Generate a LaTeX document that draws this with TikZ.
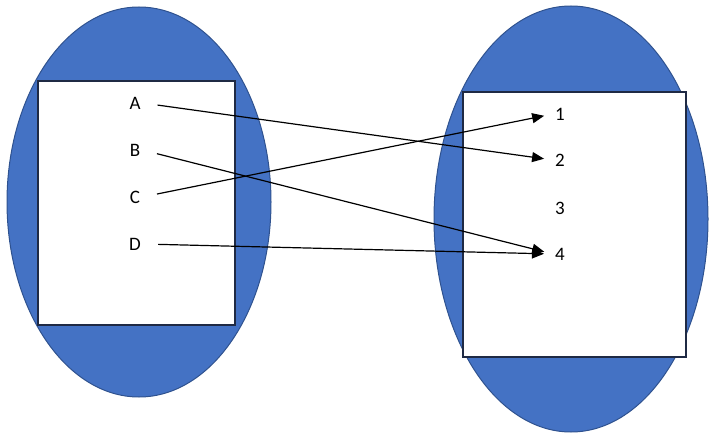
\documentclass[tikz,border=0pt]{standalone}
\usepackage{fontspec}
\setmainfont{Carlito}
\usepackage{xcolor}
\usetikzlibrary{
  calc,
  positioning,
  arrows.meta
}
\definecolor{setblue}{HTML}{4472C4}
\definecolor{setedge}{HTML}{2F528F}
\definecolor{boxedge}{HTML}{1F2A44}

\begin{document}
\begin{tikzpicture}[x=1pt,y=-1pt,>=Latex]
  \tikzset{
    setshape/.style={fill=setblue, draw=setedge, line width=1pt},
    setbox/.style={fill=white, draw=boxedge, line width=1.4pt},
    elem/.style={font=\fontsize{19}{22}\selectfont, inner sep=2pt},
    maps/.style={-{Triangle[length=12pt,width=10pt]}, line width=1.2pt,
      shorten <=15pt, shorten >=9pt}
  }
\useasboundingbox (0,0) rectangle (709,433);

% the two sets
\draw[setshape] (139,202) ellipse [x radius=132, y radius=195];
\draw[setshape] (571,219) ellipse [x radius=137, y radius=213];
\draw[setbox] (38,81) rectangle (235,325);
\draw[setbox] (463,92) rectangle (686,357);

% domain
\node[elem] (a) at (135,103) {A};
\node[elem] (b) at (135,150) {B};
\node[elem] (c) at (135,197) {C};
\node[elem] (d) at (135,244) {D};

% codomain
\node[elem] (one) at (560,114) {1};
\node[elem] (two) at (560,160) {2};
\node[elem] (three) at (560,208) {3};
\node[elem] (four) at (560,254) {4};

\draw[maps] (a.east)--(two.west);
\draw[maps] (b.east)--(four.west);
\draw[maps] (c.east)--(one.west);
\draw[maps] (d.east)--(four.west);

\end{tikzpicture}
\end{document}
